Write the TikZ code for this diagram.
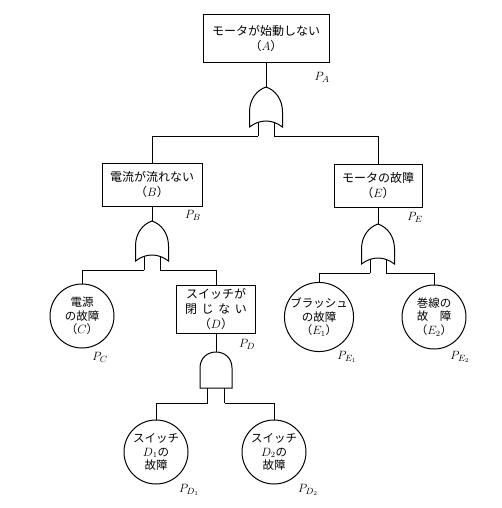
\documentclass[tikz,border=0pt]{standalone}
\usepackage{fontspec}
\newfontfamily\jpfont{Noto Sans CJK JP}
\usetikzlibrary{calc}

\tikzset{
  event/.style={draw, align=center, inner sep=2pt, font=\jpfont\fontsize{12}{15}\selectfont},
  basic/.style={draw, circle, minimum size=64pt, inner sep=0pt, align=center, font=\jpfont\fontsize{11.5}{13.5}\selectfont},
  prob/.style={inner sep=0pt, font=\fontsize{13}{15}\selectfont},
  orgate/.pic={
    \draw (0,0) .. controls (9,3) and (16.5,12) .. (16.5,25) -- (16.5,40) .. controls (6,32) and (-6,32) .. (-16.5,40) -- (-16.5,25) .. controls (-16.5,12) and (-9,3) .. (0,0) -- cycle;
    \draw (-8,35.5) -- (-8,49) coordinate (-l);
    \draw (8,35.5) -- (8,49) coordinate (-r);
    \coordinate (-top) at (0,0);
  },
  andgate/.pic={
    \draw (-16,36) -- (-16,16) .. controls (-16,-5.3) and (16,-5.3) .. (16,16) -- (16,36) -- cycle;
    \draw (-8.5,36) -- (-8.5,51) coordinate (-l);
    \draw (8.5,36) -- (8.5,51) coordinate (-r);
    \coordinate (-top) at (0,0);
  },
}

\begin{document}
\begin{tikzpicture}[x=1pt, y=-1pt, line width=1pt]
\useasboundingbox (0,0) rectangle (502,508);

\node[event, minimum width=126pt, minimum height=48pt] (A) at (266,39) {モータが始動しない\\（$A$）};
\node[event, minimum width=100pt, minimum height=43pt] (B) at (152,184.5) {電流が流れない\\（$B$）};
\node[event, minimum width=88pt, minimum height=43pt] (E) at (378,185.5) {モータの故障\\（$E$）};
\node[event, minimum width=79pt, minimum height=48pt] (D) at (216,309) {スイッチが\\\makebox[62pt]{閉\hfill じ\hfill な\hfill い}\\（$D$）};

\node[basic] (C) at (82,316) {電源\\の故障\\（$C$）};
\node[basic] (E1) at (319,317) {ブラッシュ\\の故障\\（$E_1$）};
\node[basic] (E2) at (434,317) {巻線の\\故　障\\（$E_2$）};
\node[basic] (D1) at (156,452) {スイッチ\\$D_1$の\\故障};
\node[basic] (D2) at (274,452) {スイッチ\\$D_2$の\\故障};

\pic (gA) at (266,87) {orgate};
\pic (gB) at (152,221) {orgate};
\pic (gE) at (378,224) {orgate};
\pic (gD) at (216,352) {andgate};

\draw (A) -- (gA-top);
\draw (gA-l) -| (B);
\draw (gA-r) -| (E);
\draw (B) -- (gB-top);
\draw (gB-l) -| (C);
\draw (gB-r) -| (D);
\draw (E) -- (gE-top);
\draw (gE-l) -| (E1);
\draw (gE-r) -| (E2);
\draw (D) -- (gD-top);
\draw (gD-l) -| (D1);
\draw (gD-r) -| (D2);

\node[prob] (pA) at (322,77) {$P_A$};
\node[prob] (pB) at (193,215) {$P_B$};
\node[prob] (pE) at (415,217) {$P_E$};
\node[prob] (pC) at (100,357) {$P_C$};
\node[prob] (pD) at (247,344) {$P_D$};
\node[prob] (pE1) at (347,357) {$P_{E_1}$};
\node[prob] (pE2) at (460,357) {$P_{E_2}$};
\node[prob] (pD1) at (189,490) {$P_{D_1}$};
\node[prob] (pD2) at (308,490) {$P_{D_2}$};
\end{tikzpicture}
\end{document}
